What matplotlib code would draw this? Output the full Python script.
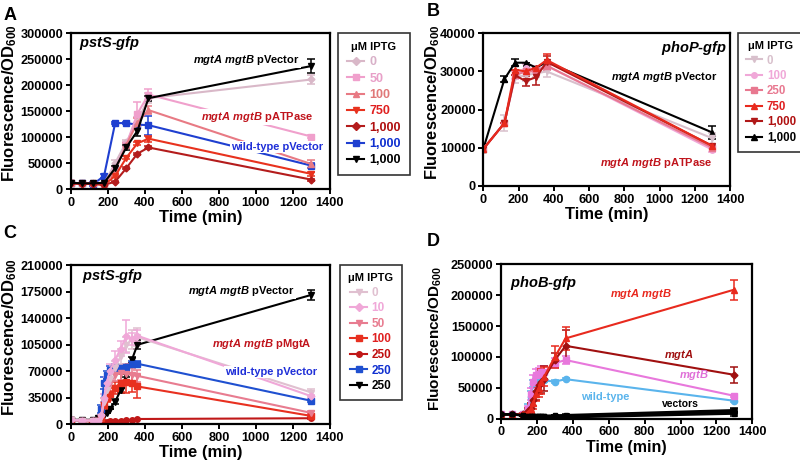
import matplotlib
matplotlib.use('Agg')
import matplotlib.pyplot as plt
from matplotlib.lines import Line2D

plt.rcParams['font.family'] = ['Liberation Sans', 'DejaVu Sans']
plt.rcParams['font.weight'] = 'bold'
plt.rcParams['mathtext.fontset'] = 'custom'
plt.rcParams['mathtext.rm'] = 'Liberation Sans:bold'
plt.rcParams['mathtext.it'] = 'Liberation Sans:italic:bold'
plt.rcParams['mathtext.bf'] = 'Liberation Sans:bold'

# ---------------- Panel A : pstS-gfp, pATPase ----------------
tA = [0, 60, 120, 180, 240, 300, 360, 420, 1300]
a_0 = [12000, 11000, 11000, 10000, 50000, 90000, 130000, 175000, 211000]
a_50 = [12000, 11000, 11000, 10000, 40000, 85000, 145000, 182000, 101000]
a_100 = [12000, 11000, 11000, 10000, 35000, 85000, 128000, 152000, 48000]
a_750 = [11000, 10000, 10000, 8000, 25000, 60000, 88000, 97000, 29000]
a_1000 = [11000, 10000, 10000, 8000, 14000, 40000, 68000, 80000, 18000]
a_wt = [12000, 11000, 9000, 25000, 127000, 127000, 124000, 123000, 45000]
a_vec = [12000, 11000, 11000, 12000, 40000, 80000, 112000, 175000, 237000]
a_0_err = [2000, 0, 0, 0, 5000, 5000, 8000, 10000, 8000]
a_50_err = [0, 0, 0, 0, 5000, 5000, 22000, 10000, 3000]
a_100_err = [0, 0, 0, 0, 4000, 4000, 8000, 8000, 7000]
a_750_err = [0, 0, 0, 0, 2000, 3000, 3000, 6000, 3000]
a_1000_err = [0, 0, 0, 0, 1000, 2000, 2000, 2000, 2000]
a_wt_err = [0, 0, 4000, 3000, 2000, 2000, 3000, 18000, 5000]
a_vec_err = [0, 0, 0, 0, 4000, 5000, 10000, 5000, 14000]
legA_labels = ['0', '50', '100', '750', '1,000', '1,000', '1,000']
yticksA = [0, 50000, 100000, 150000, 200000, 250000, 300000]

# ---------------- Panel B : phoP-gfp ----------------
tB = [0, 120, 180, 240, 300, 360, 1300]
b_0 = [9700, 16500, 28500, 29000, 29500, 30000, 12500]
b_100 = [9700, 16500, 29000, 31000, 30500, 31500, 9500]
b_250 = [9700, 16500, 29000, 30000, 30000, 31500, 10000]
b_750 = [9700, 16500, 30500, 30000, 31000, 33000, 10500]
b_1000 = [9700, 16500, 29000, 27500, 28500, 32500, 10500]
b_vec = [9700, 28000, 32300, 32300, 31000, 32500, 14000]
b_0_err = [0, 2200, 1500, 1500, 1000, 1500, 1500]
b_100_err = [0, 0, 1000, 1000, 1000, 1000, 500]
b_250_err = [0, 0, 0, 0, 0, 1000, 0]
b_750_err = [0, 0, 0, 0, 0, 1500, 0]
b_1000_err = [0, 0, 0, 1200, 2000, 1500, 0]
b_vec_err = [0, 800, 900, 0, 0, 0, 1800]
legB_labels = ['0', '100', '250', '750', '1,000', '1,000']
yticksB = [0, 10000, 20000, 30000, 40000]

# ---------------- Panel C : pstS-gfp, pMgtA ----------------
tC = [0, 60, 120, 150, 165, 180, 195, 210, 240, 270, 300, 330, 360, 1300]
c_0 = [6000, 5000, 5000, 5000, 10000, 30000, 45000, 60000, 75000, 90000, 105000, 112000, 115000, 42000]
c_10 = [6000, 5000, 5000, 5000, 12000, 35000, 55000, 70000, 85000, 100000, 116000, 113000, 117000, 37000]
c_50 = [6000, 5000, 5000, 5000, 10000, 30000, 45000, 55000, 65000, 68000, 67000, 65000, 64000, 15000]
c_100 = [6000, 5000, 5000, 4000, 8000, 25000, 35000, 40000, 48000, 55000, 56000, 55000, 50000, 11000]
c_250 = [6000, 5000, 3000, 2000, 2000, 3000, 3500, 4000, 4500, 5000, 5500, 6000, 7000, 8000]
c_wt = [6000, 5000, 4000, 5000, 20000, 55000, 65000, 72000, 75000, 75000, 76000, 80000, 80000, 31000]
c_vec = [6000, 6000, 6000, 8000, 9000, 12000, 15000, 20000, 30000, 45000, 65000, 85000, 105000, 171000]
c_0_err = [0, 0, 0, 0, 0, 5000, 5000, 8000, 8000, 10000, 10000, 12000, 12000, 4000]
c_10_err = [0, 0, 0, 0, 0, 5000, 8000, 10000, 12000, 10000, 22000, 8000, 8000, 2000]
c_50_err = [0, 0, 0, 0, 0, 5000, 5000, 5000, 8000, 10000, 12000, 10000, 8000, 2000]
c_100_err = [0, 0, 0, 0, 0, 5000, 5000, 8000, 8000, 12000, 15000, 12000, 15000, 3000]
c_250_err = [0, 0, 0, 0, 0, 0, 0, 0, 0, 0, 0, 0, 0, 1000]
c_wt_err = [0, 0, 0, 0, 5000, 8000, 5000, 5000, 4000, 3000, 3000, 3000, 3000, 2000]
c_vec_err = [0, 0, 0, 0, 0, 0, 0, 0, 3000, 3000, 3000, 4000, 6000, 7000]
legC_labels = ['0', '10', '50', '100', '250', '250', '250']
yticksC = [0, 35000, 70000, 105000, 140000, 175000, 210000]

# ---------------- Panel D : phoB-gfp ----------------
tD = [0, 60, 120, 150, 165, 180, 195, 210, 225, 240, 300, 360, 1300]
d_wt = [7000, 7000, 8000, 15000, 35000, 57000, 62000, 62000, 62000, 62000, 60000, 64000, 29000]
d_mgtB = [7000, 7000, 8000, 15000, 40000, 60000, 70000, 72000, 75000, 75000, 90000, 95000, 37000]
d_mgtA = [7000, 7000, 8000, 12000, 18000, 30000, 45000, 55000, 60000, 65000, 95000, 118000, 71000]
d_AB = [7000, 7000, 8000, 10000, 15000, 25000, 40000, 50000, 60000, 68000, 100000, 130000, 209000]
d_v1 = [7000, 7000, 5000, 3000, 2000, 2000, 2000, 2000, 2000, 2000, 2000, 2000, 8000]
d_v2 = [7000, 7000, 5000, 3000, 3000, 3000, 3000, 3000, 3000, 3000, 3000, 3500, 10000]
d_v3 = [7000, 7000, 6000, 4000, 4000, 4000, 4000, 4000, 4000, 4000, 4500, 5000, 12000]
d_v4 = [7000, 7000, 6000, 5000, 5000, 5000, 5000, 5000, 5000, 5000, 5500, 6000, 14000]
d_wt_err = [0, 0, 0, 8000, 10000, 5000, 3000, 2000, 2000, 2000, 2000, 2000, 1500]
d_mgtB_err = [0, 0, 0, 5000, 10000, 10000, 10000, 10000, 10000, 10000, 8000, 6000, 2000]
d_mgtA_err = [0, 0, 2000, 5000, 8000, 10000, 15000, 15000, 18000, 20000, 12000, 25000, 13000]
d_AB_err = [0, 0, 2000, 5000, 8000, 10000, 12000, 15000, 20000, 15000, 18000, 18000, 16000]
d_v_err = [0, 0, 0, 0, 0, 0, 0, 0, 0, 0, 1000, 1000, 3000]
yticksD = [0, 50000, 100000, 150000, 200000, 250000]

xticks = [0, 200, 400, 600, 800, 1000, 1200, 1400]

W, H = 800, 462
fig = plt.figure(figsize=(8, 4.62), dpi=100)


def make_ax(x0, x1, ytop, ybot):
    return fig.add_axes([x0 / W, 1 - ybot / H, (x1 - x0) / W, (ybot - ytop) / H])


def style(ax, yticks, ymax, ylab_xy, ylab_fs=12.0, xlab_fs=12):
    ax.set_xlim(0, 1400)
    ax.set_ylim(0, ymax)
    ax.set_xticks(xticks)
    ax.set_xticklabels([str(v) for v in xticks])
    ax.set_yticks(yticks)
    ax.set_yticklabels([str(v) for v in yticks])
    for s in ax.spines.values():
        s.set_linewidth(1.6)
        s.set_color('black')
    ax.tick_params(direction='out', length=3.5, width=1.4, labelsize=9.2, pad=2)
    for lab in ax.get_xticklabels() + ax.get_yticklabels():
        lab.set_fontweight('bold')
    ax.set_xlabel('Time (min)', fontsize=xlab_fs, fontweight='bold', labelpad=1)
    ax.set_ylabel('Fluorescence/OD$_{600}$', fontsize=ylab_fs, fontweight='bold')
    ax.yaxis.set_label_coords(*ylab_xy)


def series(ax, t, y, err, color, marker, ms=4, z=2):
    ax.errorbar(t, y, yerr=err, color=color, marker=marker, ms=ms, lw=1.5,
                elinewidth=1.1, capsize=3, capthick=1.1, zorder=z)


def legend(handles, labels, colors, x, y, fs=9, sp=0.35):
    leg = fig.legend(handles, labels, loc='upper left', bbox_to_anchor=(x / W, 1 - y / H),
                     title='\u03bcM IPTG', title_fontproperties={'weight': 'bold', 'size': 8},
                     prop={'weight': 'bold', 'size': fs}, labelcolor=colors, frameon=True,
                     fancybox=False, edgecolor='black', handlelength=1.4, handletextpad=0.4,
                     borderpad=0.7, labelspacing=sp, borderaxespad=0)
    leg.get_frame().set_linewidth(1.2)
    return leg


def H_(color, marker):
    return Line2D([], [], color=color, marker=marker, ms=4, lw=1.5)


bb = dict(facecolor='white', edgecolor='none', pad=1)

# ---------- A ----------
colA = ['#d9b8c8', '#f0a0cc', '#e87a84', '#e8321e', '#b41c1c', '#1f3fd0', '#000000']
mkA = ['D', 's', '^', 'v', 'D', 's', 'v']
axA = make_ax(70.7, 330, 33.3, 189)
dataA = [(a_wt, a_wt_err), (a_0, a_0_err), (a_50, a_50_err), (a_100, a_100_err),
         (a_750, a_750_err), (a_1000, a_1000_err), (a_vec, a_vec_err)]
idxA = [5, 0, 1, 2, 3, 4, 6]
for (y, e), i in zip(dataA, idxA):
    series(axA, tA, y, e, colA[i], mkA[i], ms=3.5 if mkA[i] == 'D' else 4)
style(axA, yticksA, 300000, ((19 - 70.7) / 259.3, 0.555))
axA.text(45, 281000, '$\\mathit{pstS}$-$\\mathit{gfp}$', fontsize=10.5, ha='left', va='center')
axA.text(947, 248500, '$\\mathit{mgtA\\ mgtB}$ pVector', fontsize=8, ha='center', va='center', color='black', bbox=bb, zorder=5)
axA.text(1009, 138700, '$\\mathit{mgtA\\ mgtB}$ pATPase', fontsize=8, ha='center', va='center', color='#c0141c', bbox=bb, zorder=5)
axA.text(1114, 81000, 'wild-type pVector', fontsize=8, ha='center', va='center', color='#1f2fd8', bbox=bb, zorder=5)
legend([H_(c, m) for c, m in zip(colA, mkA)], legA_labels,
       ['#d8b0c8', '#e8a0c8', '#e07878', '#e02020', '#b01010', '#1030d0', 'black'], 338, 33)

# ---------- B ----------
colB = ['#d8c0cc', '#f0a8d8', '#e87890', '#e82a1e', '#b01818', '#000000']
mkB = ['v', 'o', 's', '^', 'v', '^']
axB = make_ax(483.3, 730, 33.3, 186)
dataB = [(b_vec, b_vec_err), (b_0, b_0_err), (b_100, b_100_err), (b_250, b_250_err),
         (b_1000, b_1000_err), (b_750, b_750_err)]
idxB = [5, 0, 1, 2, 4, 3]
for (y, e), i in zip(dataB, idxB):
    series(axB, tB, y, e, colB[i], mkB[i])
style(axB, yticksB, 40000, ((442 - 483.3) / 246.7, 0.55), ylab_fs=11.8)
axB.text(1383, 36150, '$\\mathit{phoP}$-$\\mathit{gfp}$', fontsize=10.5, ha='right', va='center')
axB.text(1026, 28550, '$\\mathit{mgtA\\ mgtB}$ pVector', fontsize=8, ha='center', va='center', color='black')
axB.text(980, 6025, '$\\mathit{mgtA\\ mgtB}$ pATPase', fontsize=8, ha='center', va='center', color='#c0141c')
legend([H_(c, m) for c, m in zip(colB, mkB)], legB_labels,
       ['#d8c0cc', '#f0a8d8', '#e87890', '#e02020', '#b01010', 'black'], 738, 33, fs=8.3, sp=0.3)

# ---------- C ----------
colC = ['#e0c0d0', '#f0a8d8', '#e87c90', '#e83020', '#c01818', '#1f50d0', '#000000']
mkC = ['v', 'D', 'v', 's', 'o', 's', 'v']
axC = make_ax(70.7, 330, 265.3, 424.3)
dataC = [(c_vec, c_vec_err), (c_wt, c_wt_err), (c_250, c_250_err), (c_100, c_100_err),
         (c_50, c_50_err), (c_0, c_0_err), (c_10, c_10_err)]
idxC = [6, 5, 4, 3, 2, 0, 1]
for (y, e), i in zip(dataC, idxC):
    series(axC, tC, y, e, colC[i], mkC[i], ms=3.5 if mkC[i] == 'D' else 4)
style(axC, yticksC, 210000, ((19 - 70.7) / 259.3, 0.55))
axC.text(61, 196000, '$\\mathit{pstS}$-$\\mathit{gfp}$', fontsize=10.5, ha='left', va='center')
axC.text(922, 176000, '$\\mathit{mgtA\\ mgtB}$ pVector', fontsize=8, ha='center', va='center', color='black', bbox=bb, zorder=5)
axC.text(1033, 106000, '$\\mathit{mgtA\\ mgtB}$ pMgtA', fontsize=8, ha='center', va='center', color='#c0141c', bbox=bb, zorder=5)
axC.text(1081, 69000, 'wild-type pVector', fontsize=8, ha='center', va='center', color='#1f2fd8', bbox=bb, zorder=5)
legend([H_(c, m) for c, m in zip(colC, mkC)], legC_labels,
       ['#e0c0d0', '#f0a8d8', '#e87c90', '#e02020', '#c01010', '#1030d0', 'black'], 340, 265, fs=8.5, sp=0.3)

# ---------- D ----------
axD = make_ax(501, 752.3, 264.3, 418.7)
for v in [d_v1, d_v2, d_v3, d_v4]:
    series(axD, tD, v, d_v_err, 'black', 's', ms=3.5, z=3)
series(axD, tD, d_wt, d_wt_err, '#5ab4ec', 'o', ms=4.5)
series(axD, tD, d_mgtB, d_mgtB_err, '#e878dc', 's')
series(axD, tD, d_mgtA, d_mgtA_err, '#a01010', 'D', ms=3.5)
series(axD, tD, d_AB, d_AB_err, '#e82a1e', '^')
style(axD, yticksD, 250000, ((444 - 501) / 251.3, 0.52), ylab_fs=11.0, xlab_fs=11.5)
axD.text(50, 219700, '$\\mathit{phoB}$-$\\mathit{gfp}$', fontsize=10.5, ha='left', va='center')
axD.text(780, 202000, '$\\mathit{mgtA\\ mgtB}$', fontsize=8, ha='center', va='center', color='#e8281e')
axD.text(992, 103000, '$\\mathit{mgtA}$', fontsize=8, ha='center', va='center', color='#a01010')
axD.text(1075, 70800, '$\\mathit{mgtB}$', fontsize=8, ha='center', va='center', color='#e070d8')
axD.text(579, 35100, 'wild-type', fontsize=8, ha='center', va='center', color='#5ab4ec')
axD.text(1000, 23800, 'vectors', fontsize=7.5, ha='center', va='center', color='black')

# panel letters
fig.text(0.004, 0.985, 'A', fontsize=13, fontweight='bold', va='top', ha='left')
fig.text(0.533, 0.993, 'B', fontsize=13, fontweight='bold', va='top', ha='left')
fig.text(0.004, 0.512, 'C', fontsize=13, fontweight='bold', va='top', ha='left')
fig.text(0.533, 0.495, 'D', fontsize=13, fontweight='bold', va='top', ha='left')

fig.savefig('out.png', dpi=100)
